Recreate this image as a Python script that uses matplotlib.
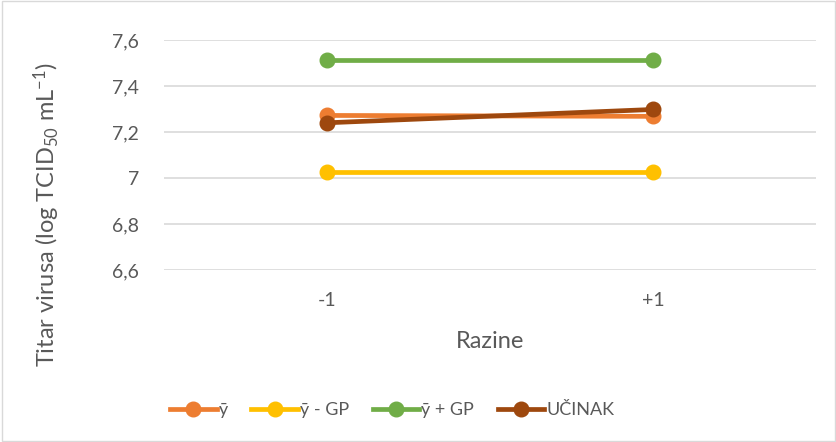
import matplotlib.pyplot as plt

# Podaci
razine = ['-1', '+1']
y_sr = [7.272, 7.268]
y_minus_gp = [7.025, 7.025]
y_plus_gp = [7.515, 7.515]
ucinak = [7.24, 7.298]

plt.rcParams['font.family'] = ['Lato', 'DejaVu Sans']
plt.rcParams['mathtext.fontset'] = 'custom'
plt.rcParams['mathtext.rm'] = 'Lato'
plt.rcParams['mathtext.it'] = 'Lato:italic'

siva = '#595959'
fig = plt.figure(figsize=(8.37, 4.42), dpi=100)
ax = fig.add_axes([164 / 837, 1 - 270 / 442, (816 - 164) / 837, 230 / 442])

x = [0, 1]
ax.plot(x, y_sr, color='#ed7d31', lw=3.4, marker='o', ms=10.5, label='ȳ')
ax.plot(x, y_minus_gp, color='#ffc000', lw=3.4, marker='o', ms=10.5, label='ȳ - GP')
ax.plot(x, y_plus_gp, color='#70ad47', lw=3.4, marker='o', ms=10.5, label='ȳ + GP')
ax.plot(x, ucinak, color='#9e480e', lw=3.4, marker='o', ms=10.5, label='UČINAK')

ax.set_xlim(-0.5, 1.5)
ax.set_ylim(6.6, 7.6)
ax.set_xticks(x)
ax.set_xticklabels(razine)
ax.set_yticks([6.6, 6.8, 7.0, 7.2, 7.4, 7.6])
ax.set_yticklabels(['6,6', '6,8', '7', '7,2', '7,4', '7,6'])
ax.tick_params(length=0, labelsize=14, colors=siva)
ax.tick_params(axis='y', pad=18)
ax.tick_params(axis='x', pad=16)
ax.yaxis.grid(True, color='#d9d9d9', lw=1.2)
ax.set_axisbelow(True)
for s in ax.spines.values():
    s.set_visible(False)

ax.set_xlabel('Razine', fontsize=17, color=siva)
ax.xaxis.set_label_coords(0.5, -0.265)
ax.set_ylabel('Titar virusa (log TCID$_{50}$ mL$^{-1}$)', fontsize=17, color=siva)
ax.yaxis.set_label_coords(-0.156, 0.24)

leg = fig.legend(loc='center', bbox_to_anchor=(392 / 837, 1 - 410 / 442), ncol=4, frameon=False,
                 fontsize=13, handlelength=2.6, columnspacing=1.3, handletextpad=0.1)
for t in leg.get_texts():
    t.set_color(siva)

fig.patches.append(plt.Rectangle((0.002, 0.002), 0.996, 0.996, transform=fig.transFigure,
                                 fill=False, edgecolor='#d9d9d9', lw=1))
fig.savefig('out.png', dpi=100)
